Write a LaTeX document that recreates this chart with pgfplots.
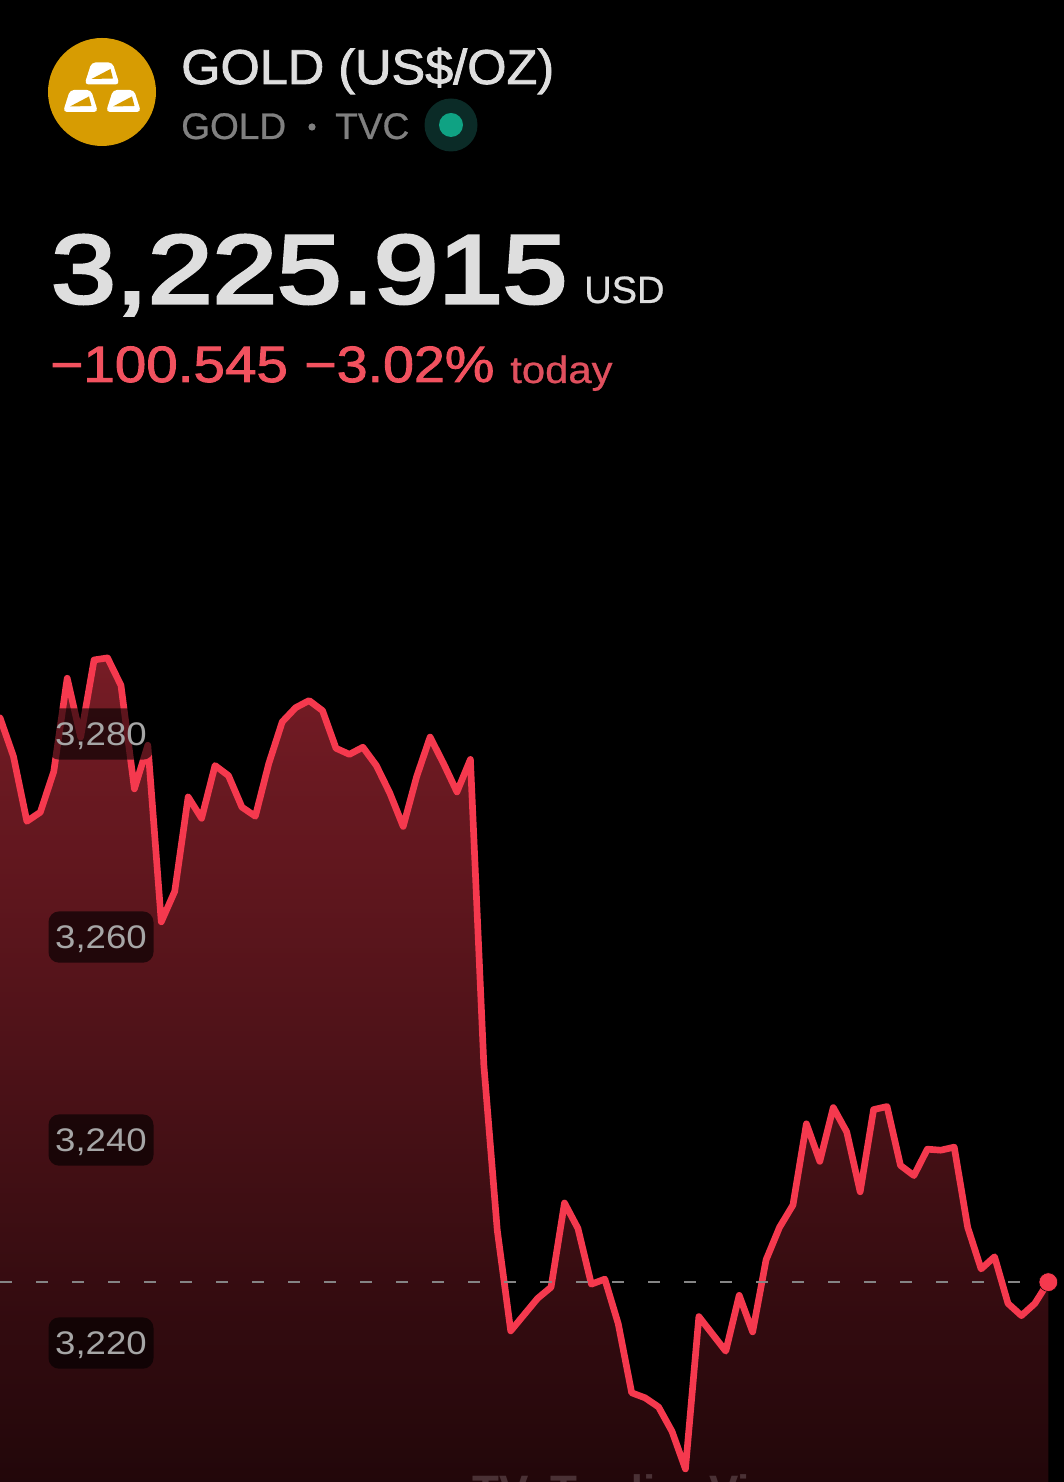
\documentclass[border=0pt]{standalone}
\usepackage{fontspec}
\usepackage{pgfplots}
\usepackage{pgfplotstable}
\pgfplotsset{compat=1.18}
\setmainfont{Liberation Sans}
\newfontfamily\lit[FakeBold=0.7]{Liberation Sans}
\newfontfamily\med[FakeBold=1.6]{Liberation Sans}
\newfontfamily\medb[FakeBold=3.2]{Liberation Sans}
\definecolor{bgblack}{HTML}{000000}
\definecolor{linered}{HTML}{F5394E}
\definecolor{filltop}{HTML}{761C25}
\definecolor{fillbot}{HTML}{22070A}
\definecolor{titlegray}{HTML}{DEDEDE}
\definecolor{subgray}{HTML}{808080}
\definecolor{textred}{HTML}{F2525F}
\definecolor{todayred}{HTML}{E0505E}
\definecolor{gold}{HTML}{D79C02}
\definecolor{dotouter}{HTML}{0B2B27}
\definecolor{dotinner}{HTML}{0FA283}
\definecolor{ticktext}{HTML}{A6A6A6}
\definecolor{dashgray}{HTML}{858585}
\definecolor{wm}{HTML}{4A3135}
\pgfplotstableread{
x y
0 3206.31
0 3281.6
1 3277.8
2 3271.4
3 3272.3
4 3276.3
5 3285.5
6 3279.7
7 3287.3
8 3287.5
9 3284.8
10 3274.6
11 3278.9
12 3261.5
13 3264.5
14 3273.8
15 3271.7
16 3276.9
17 3275.9
18 3272.8
19 3271.9
20 3277.1
21 3281.2
22 3282.6
23 3283.3
24 3282.3
25 3278.6
26 3278.0
27 3278.7
28 3276.9
29 3274.2
30 3270.9
31 3275.8
32 3279.7
33 3277.1
34 3274.3
35 3277.5
36 3247.4
37 3231.1
38 3221.2
39 3222.8
40 3224.4
41 3225.5
42 3233.8
43 3231.3
44 3225.8
45 3226.3
46 3221.9
47 3215.1
48 3214.6
49 3213.7
50 3211.3
51 3207.6
52 3222.6
53 3220.9
54 3219.2
55 3224.7
56 3221.1
57 3228.2
58 3231.4
59 3233.6
60 3241.6
61 3237.9
62 3243.2
63 3240.8
64 3234.9
65 3243.0
66 3243.3
67 3237.5
68 3236.5
69 3239.1
70 3239.0
71 3239.3
72 3231.4
73 3227.3
74 3228.5
75 3223.9
76 3222.7
77 3223.9
78 3226.0
78 3206.31
}\goldtable
\newcommand\goldbar[2]{%
  \fill[white,rounded corners=3pt] (#1,#2+22) -- (#1+7,#2) -- (#1+28,#2) -- (#1+35,#2+22) -- cycle;
  \fill[gold] (#1+7,#2+16.5) -- (#1+28.5,#2+16) -- (#1+26,#2+6.5) -- cycle;
}
\newcommand\tl[1]{\raisebox{-8.9pt}[0pt][0pt]{\scalebox{1.12}[1]{#1}}}
\begin{document}
\begin{tikzpicture}
\begin{axis}[
  at={(0,0)},anchor=south west,
  scale only axis,width=798pt,height=1111.5pt,
  xmin=0,xmax=79.167,ymin=3206.31,ymax=3352.32,
  axis background/.style={fill=bgblack},
  axis line style={draw=none},
  tick style={draw=none},major tick length=0pt,
  axis on top=true,
  xtick=\empty,
  ytick={3220,3240,3260,3280},
  yticklabels={\tl{3,220},\tl{3,240},\tl{3,260},\tl{3,280}},
  yticklabel style={anchor=center,xshift=75.75pt,
    fill=black,fill opacity=0.62,text opacity=1,rounded corners=8pt,
    minimum width=78.75pt,minimum height=38.5pt,inner sep=0pt,text=ticktext,
    font=\fontsize{24.5}{24.5}\selectfont},
]
\addplot[draw=none,top color=filltop,bottom color=fillbot,forget plot] table[x=x,y=y] {\goldtable};
\addplot[linered,line width=5pt,line join=round,line cap=round,
  skip coords between index={0}{1},skip coords between index={80}{81},forget plot] table[x=x,y=y] {\goldtable};
\addplot[dashgray,line width=1.1pt,dash pattern=on 9pt off 18pt,forget plot] coordinates {(0,3226.0) (79.167,3226.0)};
\addplot[only marks,mark=*,mark size=7pt,mark options={fill=linered,draw=none},forget plot] coordinates {(78,3226.0)};
\end{axis}
\begin{scope}[x=0.75pt,y=-0.75pt,yshift=1111.5pt]
  % logo
  \fill[gold] (102,92) circle (54);
  \goldbar{84.5}{62.5}
  \goldbar{63}{90}
  \goldbar{106}{90}
  % title block
  \node[anchor=base west,inner sep=0,text=titlegray] at (181,84)
    {\scalebox{1.03}[1]{\fontsize{36.75}{40}\med GOLD (US\$/OZ)}};
  \node[anchor=base west,inner sep=0,text=subgray] at (181,139)
    {\fontsize{27.75}{30}\lit GOLD};
  \fill[subgray] (312,127) circle (3.6);
  \node[anchor=base west,inner sep=0,text=subgray] at (335,139)
    {\fontsize{27.75}{30}\lit TVC};
  \fill[dotouter] (451,125) circle (26.5);
  \fill[dotinner] (451,125) circle (12);
  % price
  \node[anchor=base west,inner sep=0,text=titlegray] at (51,303)
    {\scalebox{1.192}[1]{\fontsize{73}{80}\medb 3,225.915}};
  \node[anchor=base west,inner sep=0,text=titlegray] at (584,303)
    {\fontsize{28.5}{32}\lit USD};
  \node[anchor=base west,inner sep=0,text=textred] at (50,382)
    {\scalebox{1.11}[1]{\fontsize{38.25}{40}\med −100.545}};
  \node[anchor=base west,inner sep=0,text=textred] at (304,382)
    {\scalebox{1.09}[1]{\fontsize{38.25}{40}\med −3.02\%}};
  \node[anchor=base west,inner sep=0,text=todayred] at (510,383)
    {\scalebox{1.1}[1]{\fontsize{28.5}{32}\lit today}};
  % clipped watermark
  \begin{scope}
    \clip (0,1400) rectangle (1064,1482);
    \node[anchor=base west,inner sep=0,text=wm] at (472,1506)
      {\fontsize{33}{36}\selectfont\bfseries TV};
    \node[anchor=base west,inner sep=0,text=wm] at (550,1506)
      {\fontsize{33}{36}\selectfont\bfseries TradingView};
  \end{scope}
\end{scope}
\end{tikzpicture}
\end{document}
